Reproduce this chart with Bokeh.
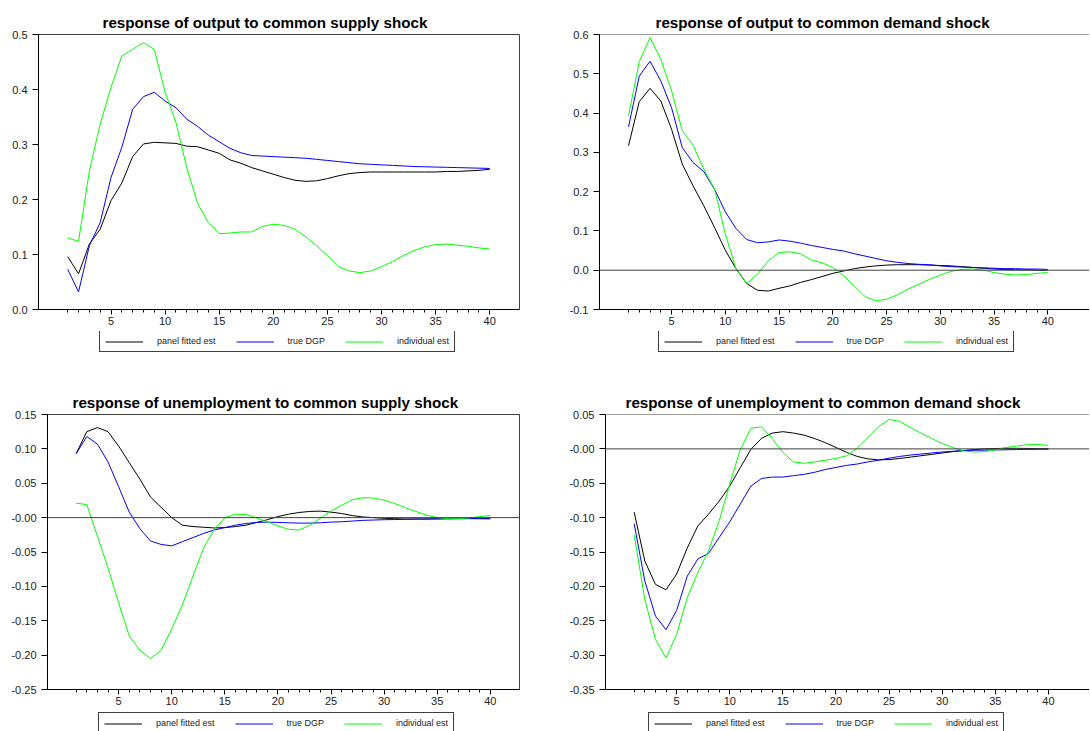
from bokeh.plotting import figure
from bokeh.models import Range1d, FixedTicker, Span, Legend, LegendItem
from bokeh.layouts import column, row
from bokeh.embed import file_html
from bokeh.resources import INLINE

# ---------------- data ----------------
horizon = list(range(1, 41))
x_major_ticks = [5, 10, 15, 20, 25, 30, 35, 40]
series_names = ["panel fitted est", "true DGP", "individual est"]
series_colors = ["#000000", "#0000ff", "#00ff00"]

title_out_supply = "response of output to common supply shock"
title_out_demand = "response of output to common demand shock"
title_un_supply = "response of unemployment to common supply shock"
title_un_demand = "response of unemployment to common demand shock"

# output to common supply shock
out_sup_panel = [0.096, 0.065, 0.119, 0.146, 0.198, 0.230, 0.278, 0.301, 0.304, 0.303,
                 0.302, 0.297, 0.296, 0.290, 0.284, 0.272, 0.266, 0.258, 0.252, 0.246,
                 0.240, 0.235, 0.233, 0.234, 0.238, 0.243, 0.247, 0.249, 0.250, 0.250,
                 0.250, 0.250, 0.250, 0.250, 0.250, 0.251, 0.251, 0.252, 0.253, 0.255]
out_sup_true = [0.073, 0.032, 0.116, 0.158, 0.240, 0.295, 0.364, 0.387, 0.395, 0.379,
                0.367, 0.346, 0.333, 0.317, 0.305, 0.293, 0.285, 0.280, 0.279, 0.278,
                0.277, 0.276, 0.275, 0.273, 0.271, 0.269, 0.267, 0.265, 0.264, 0.263,
                0.262, 0.261, 0.260, 0.2595, 0.259, 0.2585, 0.258, 0.2575, 0.257, 0.2565]
out_sup_indiv = [0.130, 0.124, 0.252, 0.337, 0.404, 0.461, 0.473, 0.485, 0.473, 0.395,
                 0.340, 0.258, 0.193, 0.158, 0.138, 0.139, 0.141, 0.141, 0.151, 0.155,
                 0.153, 0.146, 0.132, 0.116, 0.098, 0.078, 0.070, 0.067, 0.070, 0.078,
                 0.087, 0.098, 0.107, 0.114, 0.118, 0.119, 0.117, 0.115, 0.112, 0.110]

# output to common demand shock
out_dem_panel = [0.317, 0.429, 0.463, 0.431, 0.359, 0.270, 0.215, 0.164, 0.109, 0.051,
                 0.004, -0.034, -0.051, -0.053, -0.046, -0.040, -0.031, -0.024, -0.016, -0.008,
                 -0.002, 0.004, 0.008, 0.011, 0.013, 0.014, 0.014, 0.014, 0.013, 0.012,
                 0.011, 0.009, 0.007, 0.005, 0.003, 0.002, 0.001, 0.001, 0.000, 0.000]
out_dem_true = [0.365, 0.494, 0.532, 0.482, 0.414, 0.312, 0.274, 0.251, 0.206, 0.149,
                0.106, 0.078, 0.070, 0.072, 0.077, 0.074, 0.069, 0.063, 0.058, 0.053,
                0.049, 0.042, 0.036, 0.030, 0.024, 0.020, 0.017, 0.015, 0.014, 0.011,
                0.009, 0.008, 0.007, 0.006, 0.005, 0.004, 0.004, 0.003, 0.003, 0.002]
out_dem_indiv = [0.393, 0.531, 0.592, 0.537, 0.457, 0.355, 0.319, 0.257, 0.207, 0.092,
                 0.003, -0.034, -0.010, 0.024, 0.045, 0.047, 0.042, 0.026, 0.019, 0.007,
                 -0.014, -0.040, -0.067, -0.078, -0.074, -0.063, -0.048, -0.036, -0.023, -0.012,
                 -0.003, 0.002, 0.003, 0.000, -0.006, -0.010, -0.012, -0.011, -0.008, -0.006]

# unemployment to common supply shock
un_sup_panel = [0.093, 0.125, 0.131, 0.125, 0.104, 0.080, 0.056, 0.030, 0.015, 0.000,
                -0.011, -0.013, -0.014, -0.015, -0.0145, -0.013, -0.011, -0.007, -0.003, 0.0015,
                0.005, 0.0075, 0.009, 0.0095, 0.008, 0.006, 0.003, 0.001, 0.000, -0.001,
                -0.0015, -0.002, -0.002, -0.002, -0.0018, -0.0016, -0.0015, -0.0015, -0.0016, -0.0018]
un_sup_true = [0.093, 0.118, 0.107, 0.081, 0.045, 0.008, -0.016, -0.034, -0.039, -0.041,
               -0.035, -0.029, -0.023, -0.018, -0.0145, -0.011, -0.0085, -0.007, -0.0065, -0.007,
               -0.0075, -0.008, -0.008, -0.0075, -0.0065, -0.006, -0.005, -0.004, -0.0035, -0.003,
               -0.0028, -0.0025, -0.0022, -0.002, -0.0018, -0.0016, -0.0014, -0.0012, -0.001, -0.0008]
un_sup_indiv = [0.021, 0.019, -0.027, -0.073, -0.124, -0.172, -0.193, -0.205, -0.193, -0.162,
                -0.127, -0.085, -0.044, -0.017, 0.000, 0.005, 0.0045, -0.0005, -0.006, -0.012,
                -0.017, -0.018, -0.011, -0.001, 0.0095, 0.018, 0.026, 0.029, 0.0285, 0.0255,
                0.0205, 0.0145, 0.009, 0.0035, 0.000, -0.0015, -0.0015, -0.0005, 0.0015, 0.003]

# unemployment to common demand shock
un_dem_panel = [-0.092, -0.163, -0.197, -0.205, -0.182, -0.144, -0.112, -0.095, -0.076, -0.054,
                -0.027, -0.0005, 0.0155, 0.023, 0.025, 0.023, 0.020, 0.015, 0.009, 0.002,
                -0.005, -0.011, -0.0145, -0.016, -0.0155, -0.014, -0.012, -0.010, -0.008, -0.006,
                -0.004, -0.0025, -0.001, 0.000, 0.0005, 0.0008, 0.0008, 0.0006, 0.0004, 0.0002]
un_dem_true = [-0.109, -0.192, -0.243, -0.263, -0.235, -0.185, -0.160, -0.152, -0.129, -0.106,
               -0.080, -0.054, -0.043, -0.041, -0.041, -0.039, -0.037, -0.034, -0.030, -0.027,
               -0.024, -0.022, -0.019, -0.0165, -0.0135, -0.011, -0.009, -0.0075, -0.006, -0.0045,
               -0.0035, -0.0025, -0.002, -0.0018, -0.0015, -0.0013, -0.001, -0.0008, -0.0006, -0.0005]
un_dem_indiv = [-0.125, -0.219, -0.277, -0.304, -0.270, -0.216, -0.180, -0.148, -0.105, -0.051,
                -0.0005, 0.030, 0.032, 0.015, -0.005, -0.019, -0.021, -0.019, -0.0165, -0.014,
                -0.010, 0.001, 0.0165, 0.032, 0.043, 0.040, 0.031, 0.023, 0.015, 0.008,
                0.002, -0.003, -0.0045, -0.004, -0.0015, 0.002, 0.004, 0.006, 0.0065, 0.005]

# y tick values and labels
yt_out_sup = [0.0, 0.1, 0.2, 0.3, 0.4, 0.5]
yl_out_sup = ["0.0", "0.1", "0.2", "0.3", "0.4", "0.5"]
yt_out_dem = [-0.1, 0.0, 0.1, 0.2, 0.3, 0.4, 0.5, 0.6]
yl_out_dem = ["-0.1", "0.0", "0.1", "0.2", "0.3", "0.4", "0.5", "0.6"]
yt_un_sup = [-0.25, -0.2, -0.15, -0.1, -0.05, 0.0, 0.05, 0.1, 0.15]
yl_un_sup = ["-0.25", "-0.20", "-0.15", "-0.10", "-0.05", "-0.00", "0.05", "0.10", "0.15"]
yt_un_dem = [-0.35, -0.3, -0.25, -0.2, -0.15, -0.1, -0.05, 0.0, 0.05]
yl_un_dem = ["-0.35", "-0.30", "-0.25", "-0.20", "-0.15", "-0.10", "-0.05", "-0.00", "0.05"]

# ---------------- styling ----------------
FONT = "Liberation Sans"
FRAME = "#404040"


def make_panel(title, series, yticks, ylabels, x_end, width, height, left, right,
               title_offset, zero_line, open_right):
    p = figure(width=width, height=height, output_backend="svg", toolbar_location=None,
               tools="", x_range=Range1d(-1.7, x_end),
               y_range=Range1d(yticks[0], yticks[-1]),
               min_border_left=left, min_border_right=right,
               min_border_top=34, min_border_bottom=22)
    p.background_fill_color = "white"
    p.border_fill_color = "white"
    p.xgrid.visible = False
    p.ygrid.visible = False

    p.title.text = title
    p.title.text_font = FONT
    p.title.text_font_style = "bold"
    p.title.text_font_size = "15.2px"
    p.title.text_color = "#000000"
    p.title.align = "left"
    p.title.offset = title_offset
    p.title.standoff = 8

    if open_right:
        p.outline_line_color = None
        p.add_layout(Span(location=yticks[-1], dimension="width",
                          line_color=FRAME, line_width=1))
    else:
        p.outline_line_color = FRAME
        p.outline_line_width = 1
        p.outline_line_alpha = 1.0

    if zero_line:
        p.add_layout(Span(location=0, dimension="width", line_color=FRAME, line_width=1))

    for s, c in zip(series, series_colors):
        p.line(horizon, s, line_color=c, line_width=1)

    xa = p.xaxis[0]
    xa.ticker = FixedTicker(ticks=x_major_ticks, minor_ticks=horizon)
    xa.major_tick_in = 0
    xa.major_tick_out = 5
    xa.minor_tick_in = 0
    xa.minor_tick_out = 3
    xa.major_label_standoff = 2
    xa.axis_line_color = "#000000"
    xa.major_tick_line_color = "#000000"
    xa.minor_tick_line_color = "#000000"
    xa.major_label_text_font = FONT
    xa.major_label_text_font_size = "11px"
    xa.major_label_text_color = "#222222"

    ya = p.yaxis[0]
    ya.ticker = FixedTicker(ticks=yticks)
    ya.major_label_overrides = {t: l for t, l in zip(yticks, ylabels)}
    ya.major_tick_in = 0
    ya.major_tick_out = 6
    ya.minor_tick_line_color = None
    ya.major_label_standoff = 5
    ya.axis_line_color = "#000000"
    ya.major_tick_line_color = "#000000"
    ya.major_label_text_font = FONT
    ya.major_label_text_font_size = "11px"
    ya.major_label_text_color = "#222222"
    return p


def make_legend(width, height, legend_x, legend_y):
    lf = figure(width=width, height=height, output_backend="svg", toolbar_location=None,
                tools="", title=None, x_axis_location=None, y_axis_location=None,
                x_range=Range1d(0, 1), y_range=Range1d(0, 1),
                min_border_left=0, min_border_right=0, min_border_top=0, min_border_bottom=0)
    lf.outline_line_color = None
    lf.xgrid.visible = False
    lf.ygrid.visible = False
    lf.background_fill_color = "white"
    lf.border_fill_color = "white"
    # key-only renderers (a single undefined point: nothing is drawn in the frame)
    rs = [lf.line([float("nan")], [float("nan")], line_color=c, line_width=1)
          for c in series_colors]
    legend = Legend(
        items=[LegendItem(label=n, renderers=[r]) for n, r in zip(series_names, rs)],
        location=(legend_x, legend_y), orientation="horizontal",
        glyph_width=38, glyph_height=9, label_height=9, label_standoff=14,
        spacing=20, padding=5, margin=0,
        label_text_font=FONT, label_text_font_size="9px", label_text_color="#222222",
        border_line_color=FRAME, border_line_width=1, border_line_alpha=1.0,
        background_fill_color="white", background_fill_alpha=1.0)
    lf.add_layout(legend, "center")
    return lf


LW, RW = 545, 544
TOP_PLOT_H, TOP_LEG_H = 331, 49
BOT_PLOT_H, BOT_LEG_H = 331, 20

p1 = make_panel(title_out_supply, [out_sup_panel, out_sup_true, out_sup_indiv],
                yt_out_sup, yl_out_sup, 42.75, LW, TOP_PLOT_H, 38, 26, 64, False, False)
p2 = make_panel(title_out_demand, [out_dem_panel, out_dem_true, out_dem_indiv],
                yt_out_dem, yl_out_dem, 43.88, RW, TOP_PLOT_H, 54, 0, 56, True, True)
p3 = make_panel(title_un_supply, [un_sup_panel, un_sup_true, un_sup_indiv],
                yt_un_sup, yl_un_sup, 42.75, LW, BOT_PLOT_H, 47, 26, 25, True, False)
p4 = make_panel(title_un_demand, [un_dem_panel, un_dem_true, un_dem_indiv],
                yt_un_dem, yl_un_dem, 43.87, RW, BOT_PLOT_H, 60, 0, 20, True, True)

l1 = make_legend(LW, TOP_LEG_H, 61, 28)
l2 = make_legend(RW, TOP_LEG_H, 59, 28)
l3 = make_legend(LW, BOT_LEG_H, 51, -3)
l4 = make_legend(RW, BOT_LEG_H, 43, -3)

layout = column(row(column(p1, l1), column(p2, l2)),
                row(column(p3, l3), column(p4, l4)))

open("out.html", "w").write(file_html(layout, INLINE))
